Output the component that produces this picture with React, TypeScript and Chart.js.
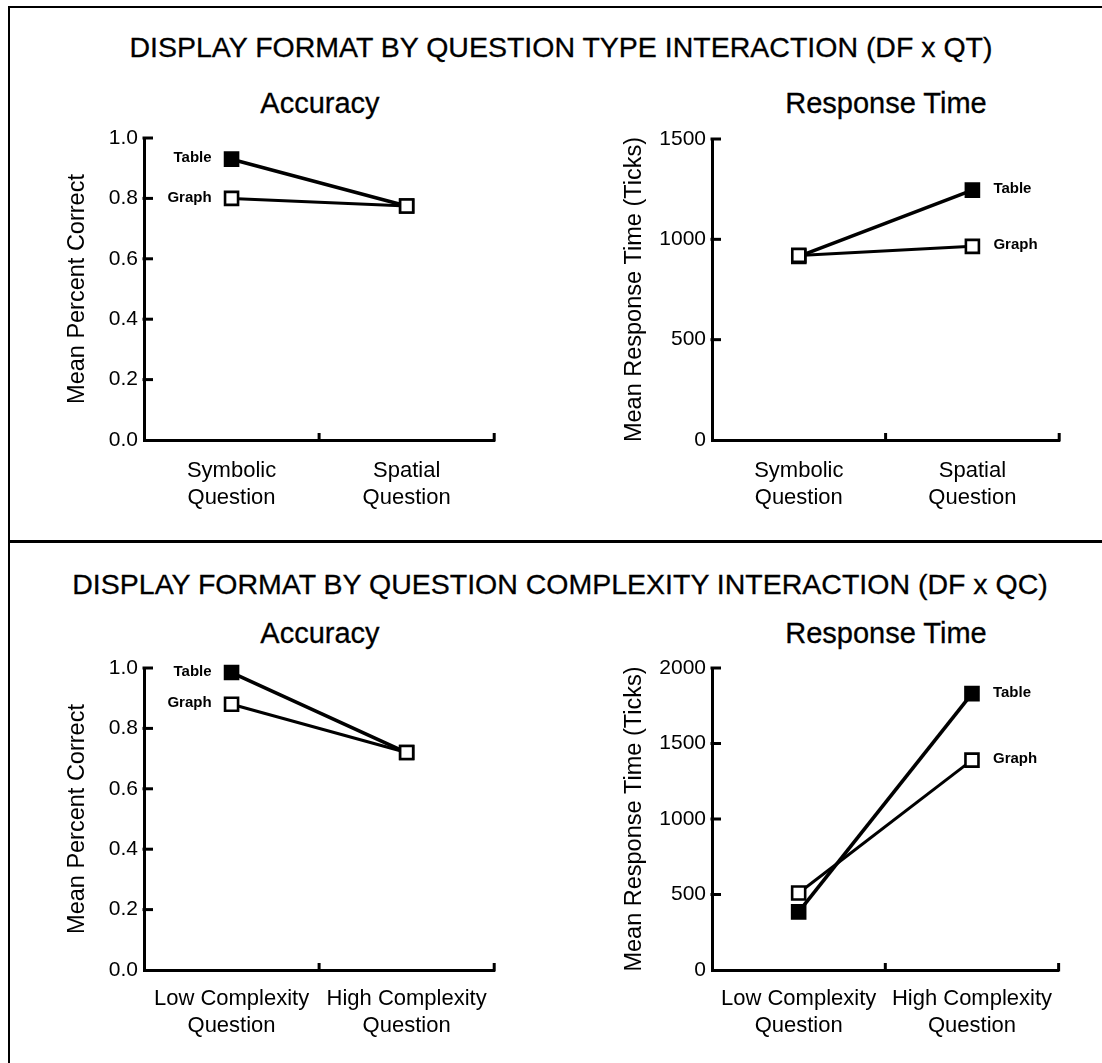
import React, { useEffect, useRef } from 'react';
import { Chart, registerables } from 'chart.js';

Chart.register(...registerables);

const FONT = '"Liberation Sans", Arial, Helvetica, sans-serif';

// ---- text ----
const titleTop = 'DISPLAY FORMAT BY QUESTION TYPE INTERACTION (DF x QT)';
const titleBottom = 'DISPLAY FORMAT BY QUESTION COMPLEXITY INTERACTION (DF x QC)';
const accuracyTitle = 'Accuracy';
const timeTitle = 'Response Time';
const accuracyAxis = 'Mean Percent Correct';
const timeAxis = 'Mean Response Time (Ticks)';

// ---- categories ----
const typeCategories = [['Symbolic', 'Question'], ['Spatial', 'Question']];
const complexityCategories = [['Low Complexity', 'Question'], ['High Complexity', 'Question']];
const seriesNames = ['Table', 'Graph'];

// ---- values ----
const qtAccuracyTable = [0.93, 0.775];
const qtAccuracyGraph = [0.8, 0.775];
const qtTimeTable = [915, 1245];
const qtTimeGraph = [920, 965];
const qcAccuracyTable = [0.985, 0.72];
const qcAccuracyGraph = [0.88, 0.72];
const qcTimeTable = [385, 1830];
const qcTimeGraph = [510, 1390];

// ---- tick labels ----
const accuracyTicks = [0, 0.2, 0.4, 0.6, 0.8, 1.0];
const qtTimeTicks = [0, 500, 1000, 1500];
const qcTimeTicks = [0, 500, 1000, 1500, 2000];

const innerTicksPlugin = {
  id: 'innerTicks',
  afterDraw(chart: any) {
    const { ctx, chartArea, scales } = chart;
    const x = scales.x;
    const y = scales.y;
    ctx.save();
    ctx.strokeStyle = '#000';
    ctx.lineWidth = 3;
    ctx.lineCap = 'butt';
    y.ticks.forEach((t: any) => {
      if (t.value === y.min) return;
      const py = y.getPixelForValue(t.value);
      ctx.beginPath();
      ctx.moveTo(chartArea.left - 1.5, py);
      ctx.lineTo(chartArea.left + 9, py);
      ctx.stroke();
    });
    const n = x.getLabels().length;
    for (let k = 1; k <= n; k++) {
      const px = x.getPixelForDecimal(k / n);
      ctx.beginPath();
      ctx.moveTo(px, chartArea.bottom + 1.5);
      ctx.lineTo(px, chartArea.bottom - 7);
      ctx.stroke();
    }
    ctx.restore();
  },
};

const seriesLabelPlugin = {
  id: 'seriesLabels',
  afterDatasetsDraw(chart: any, _args: any, opts: any) {
    const { ctx } = chart;
    const left = opts.side === 'left';
    ctx.save();
    ctx.fillStyle = '#000';
    ctx.font = `bold 15px ${FONT}`;
    ctx.textBaseline = 'middle';
    ctx.textAlign = left ? 'right' : 'left';
    chart.data.datasets.forEach((ds: any, i: number) => {
      const meta = chart.getDatasetMeta(i);
      const pt = meta.data[left ? 0 : meta.data.length - 1];
      if (!pt) return;
      ctx.fillText(ds.label, pt.x + (left ? -20 : 21), pt.y - 1);
    });
    ctx.restore();
  },
};

interface PanelProps {
  left: number;
  top: number;
  width: number;
  height: number;
  padTop: number;
  padRight: number;
  yWidth: number;
  xHeight: number;
  xPad: number;
  yTitle: string;
  categories: string[][];
  table: number[];
  graph: number[];
  ticks: number[];
  decimals: number;
  side: 'left' | 'right';
}

function Panel(p: PanelProps) {
  const ref = useRef<HTMLCanvasElement | null>(null);
  useEffect(() => {
    if (!ref.current) return;
    const common = {
      borderColor: '#000',
      pointStyle: 'rect',
      pointRadius: 9.2,
      pointBorderWidth: 2.6,
      pointBorderColor: '#000',
      tension: 0,
      clip: false,
    };
    const chart = new Chart(ref.current, {
      type: 'line',
      data: {
        labels: p.categories,
        datasets: [
          { ...common, label: seriesNames[0], data: p.table, order: 1, borderWidth: 3.6, pointBackgroundColor: '#000' },
          { ...common, label: seriesNames[1], data: p.graph, order: 0, borderWidth: 3, pointBackgroundColor: '#fff' },
        ],
      } as any,
      options: {
        animation: false,
        responsive: false,
        maintainAspectRatio: false,
        events: [],
        layout: { padding: { top: p.padTop, right: p.padRight, left: 0, bottom: 0 } },
        plugins: {
          legend: { display: false },
          tooltip: { enabled: false },
          title: { display: false },
          seriesLabels: { side: p.side },
        } as any,
        scales: {
          x: {
            type: 'category',
            offset: true,
            grid: { display: false, drawTicks: false },
            border: { display: true, width: 3, color: '#000' },
            ticks: {
              color: '#000',
              font: { family: FONT, size: 22, lineHeight: 1.2 },
              padding: p.xPad,
              maxRotation: 0,
              autoSkip: false,
            },
            afterFit: (s: any) => {
              s.height = p.xHeight;
            },
          },
          y: {
            type: 'linear',
            min: p.ticks[0],
            max: p.ticks[p.ticks.length - 1],
            grid: { display: false, drawTicks: false },
            border: { display: true, width: 3, color: '#000' },
            afterBuildTicks: (s: any) => {
              s.ticks = p.ticks.map((v) => ({ value: v }));
            },
            ticks: {
              color: '#000',
              font: { family: FONT, size: 21 },
              padding: 6,
              callback: (v: any) => Number(v).toFixed(p.decimals),
            },
            title: {
              display: true,
              text: p.yTitle,
              color: '#000',
              font: { family: FONT, size: 23.5, lineHeight: 1.2 },
              padding: { top: 13, bottom: 0 },
            },
            afterFit: (s: any) => {
              s.width = p.yWidth;
            },
          },
        },
      } as any,
      plugins: [innerTicksPlugin, seriesLabelPlugin],
    });
    return () => chart.destroy();
  }, []);
  return (
    <canvas
      ref={ref}
      width={p.width}
      height={p.height}
      style={{ position: 'absolute', left: p.left, top: p.top, width: p.width, height: p.height }}
    />
  );
}

function Text({ x, y, size, children }: { x: number; y: number; size: number; children: string }) {
  return (
    <div
      style={{
        position: 'absolute',
        left: x,
        top: y,
        transform: 'translate(-50%, -50%)',
        fontFamily: FONT,
        fontSize: size,
        lineHeight: 1,
        whiteSpace: 'nowrap',
        color: '#000',
        WebkitTextStroke: '0.3px #000',
      }}
    >
      {children}
    </div>
  );
}

export default function App() {
  return (
    <div style={{ position: 'absolute', left: 0, top: 0, width: 1102, height: 1063, background: '#fff', overflow: 'hidden' }}>
      <div style={{ position: 'absolute', left: 8, top: 6, width: 1100, height: 1070, borderTop: '2px solid #000', borderLeft: '2px solid #000' }} />
      <div style={{ position: 'absolute', left: 8, top: 540, width: 1100, height: 3, background: '#000' }} />

      <Text x={561} y={47} size={28.5}>{titleTop}</Text>
      <Text x={320} y={103} size={29}>{accuracyTitle}</Text>
      <Text x={886} y={103} size={29}>{timeTitle}</Text>

      <Text x={560} y={584} size={28.5}>{titleBottom}</Text>
      <Text x={320} y={633} size={29}>{accuracyTitle}</Text>
      <Text x={886} y={633} size={29}>{timeTitle}</Text>

      <Panel left={50} top={100} width={456} height={435} padTop={38} padRight={10} yWidth={94} xHeight={95} xPad={18}
        yTitle={accuracyAxis} categories={typeCategories} table={qtAccuracyTable} graph={qtAccuracyGraph}
        ticks={accuracyTicks} decimals={1} side="left" />
      <Panel left={607} top={100} width={464} height={435} padTop={39} padRight={10} yWidth={105} xHeight={95} xPad={18}
        yTitle={timeAxis} categories={typeCategories} table={qtTimeTable} graph={qtTimeGraph}
        ticks={qtTimeTicks} decimals={0} side="right" />
      <Panel left={50} top={630} width={456} height={433} padTop={38} padRight={10} yWidth={94} xHeight={93} xPad={16}
        yTitle={accuracyAxis} categories={complexityCategories} table={qcAccuracyTable} graph={qcAccuracyGraph}
        ticks={accuracyTicks} decimals={1} side="left" />
      <Panel left={607} top={630} width={464} height={433} padTop={38} padRight={10} yWidth={105} xHeight={93} xPad={16}
        yTitle={timeAxis} categories={complexityCategories} table={qcTimeTable} graph={qcTimeGraph}
        ticks={qcTimeTicks} decimals={0} side="right" />
    </div>
  );
}
